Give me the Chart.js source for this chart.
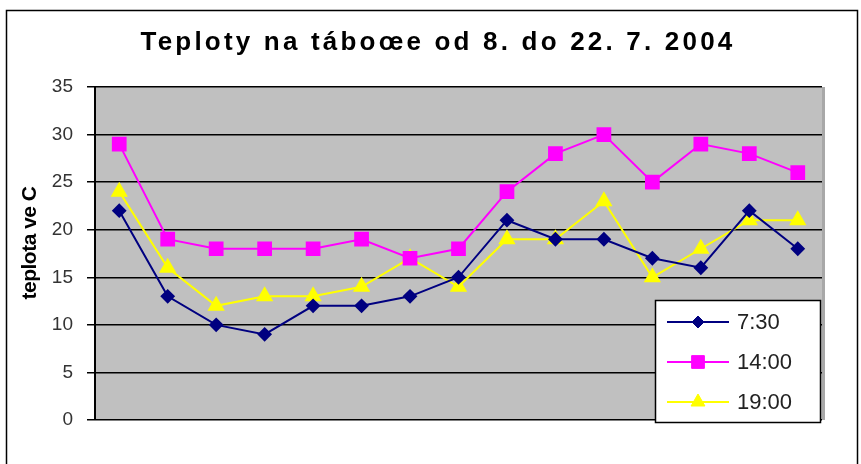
<!DOCTYPE html>
<html><head><meta charset="utf-8">
<script src="https://cdn.jsdelivr.net/npm/chart.js@4/dist/chart.umd.min.js"></script>
<style>html,body{margin:0;padding:0;background:#fff;}canvas{display:block;}</style>
</head><body>
<canvas id="c" width="861" height="464"></canvas>
<script>
const chartTitle = "Teploty na táboœe od 8. do 22. 7. 2004";
const yTitle = "teplota ve C";
const days = ["8.7.","9.7.","10.7.","11.7.","12.7.","13.7.","14.7.","15.7.","16.7.","17.7.","18.7.","19.7.","20.7.","21.7.","22.7."];
const seriesNames = ["7:30","14:00","19:00"];
const t0730 = [22,13,10,9,12,12,13,15,21,19,19,17,16,22,18];
const t1400 = [29,19,18,18,18,19,17,18,24,28,30,25,29,28,26];
const t1900 = [24,16,12,13,13,14,17,14,19,19,23,15,18,21,21];
const yTicks = [0,5,10,15,20,25,30,35];

const colors = ["#000080","#ff00ff","#ffff00"];
const styles = ["rectRot","rect","triangle"];
const radii = [6,9,8];
const FONT = "'Liberation Sans', Arial, sans-serif";

const decor = {
  id: "decor",
  beforeDraw(chart) {
    const {ctx, chartArea: a} = chart;
    ctx.save();
    ctx.fillStyle = "#fff";
    ctx.fillRect(0,0,chart.width,chart.height);
    ctx.strokeStyle = "#000"; ctx.lineWidth = 1.5;
    ctx.strokeRect(6.5, 10.5, 851, 500);
    ctx.fillStyle = "#c0c0c0";
    ctx.fillRect(a.left, a.top, a.right - a.left, a.bottom - a.top);
    ctx.fillStyle = "#a8a8a8";
    ctx.fillRect(a.right, a.top, 3, a.bottom - a.top);
    // title
    ctx.fillStyle = "#000";
    ctx.font = "bold 26px " + FONT;
    ctx.letterSpacing = "3.2px";
    ctx.textAlign = "center"; ctx.textBaseline = "middle";
    ctx.fillText(chartTitle, 438, 43);
    ctx.letterSpacing = "0px";
    // y title
    ctx.save();
    ctx.translate(30, 243);
    ctx.rotate(-Math.PI/2);
    ctx.font = "bold 21px " + FONT;
    ctx.letterSpacing = "-0.5px";
    ctx.fillText(yTitle, 0, 0);
    ctx.restore();
    ctx.restore();
  },
  afterDraw(chart) {
    const {ctx} = chart;
    ctx.save();
    const bx = 655, by = 300, bw = 165, bh = 122;
    ctx.fillStyle = "#fff";
    ctx.fillRect(bx, by, bw, bh);
    ctx.strokeStyle = "#000"; ctx.lineWidth = 1.5;
    ctx.strokeRect(bx + 0.5, by + 0.5, bw, bh);
    chart.data.datasets.forEach((ds, i) => {
      const y = 322 + i * 40;
      ctx.strokeStyle = ds.borderColor; ctx.lineWidth = 2;
      ctx.beginPath(); ctx.moveTo(667, y); ctx.lineTo(729, y); ctx.stroke();
      ctx.fillStyle = ds.borderColor; ctx.strokeStyle = ds.borderColor; ctx.lineWidth = 1;
      Chart.helpers.drawPoint(ctx, {pointStyle: ds.pointStyle, radius: ds.pointRadius, borderWidth: 1, rotation: 0}, 698, y);
      ctx.fillStyle = "#222";
      ctx.font = "22px " + FONT;
      ctx.textAlign = "left"; ctx.textBaseline = "middle";
      ctx.fillText(ds.label, 737, y + 1);
    });
    ctx.restore();
  }
};

const vals = [t0730, t1400, t1900];
new Chart(document.getElementById("c"), {
  type: "line",
  data: {
    labels: days,
    datasets: vals.map((v, i) => ({
      label: seriesNames[i],
      data: v,
      borderColor: colors[i],
      backgroundColor: colors[i],
      pointBackgroundColor: colors[i],
      pointBorderColor: colors[i],
      pointStyle: styles[i],
      pointRadius: radii[i],
      pointHoverRadius: radii[i],
      borderWidth: 2,
      tension: 0
    }))
  },
  options: {
    responsive: false,
    animation: false,
    events: [],
    layout: {padding: {left: 20, top: 87, right: 39, bottom: 44}},
    plugins: {legend: {display: false}, title: {display: false}, tooltip: {enabled: false}},
    scales: {
      x: {display: false, offset: true},
      y: {
        min: 0, max: 35,
        afterBuildTicks(s) { s.ticks = yTicks.map(v => ({value: v})); },
        afterFit(s) { s.width = 75; },
        ticks: {color: "#333", padding: 14, font: {size: 19, family: FONT}},
        grid: {color: "#000", lineWidth: 1.5, tickLength: 8, drawTicks: true},
        border: {color: "#000", width: 2}
      }
    }
  },
  plugins: [decor]
});
</script>
</body></html>
